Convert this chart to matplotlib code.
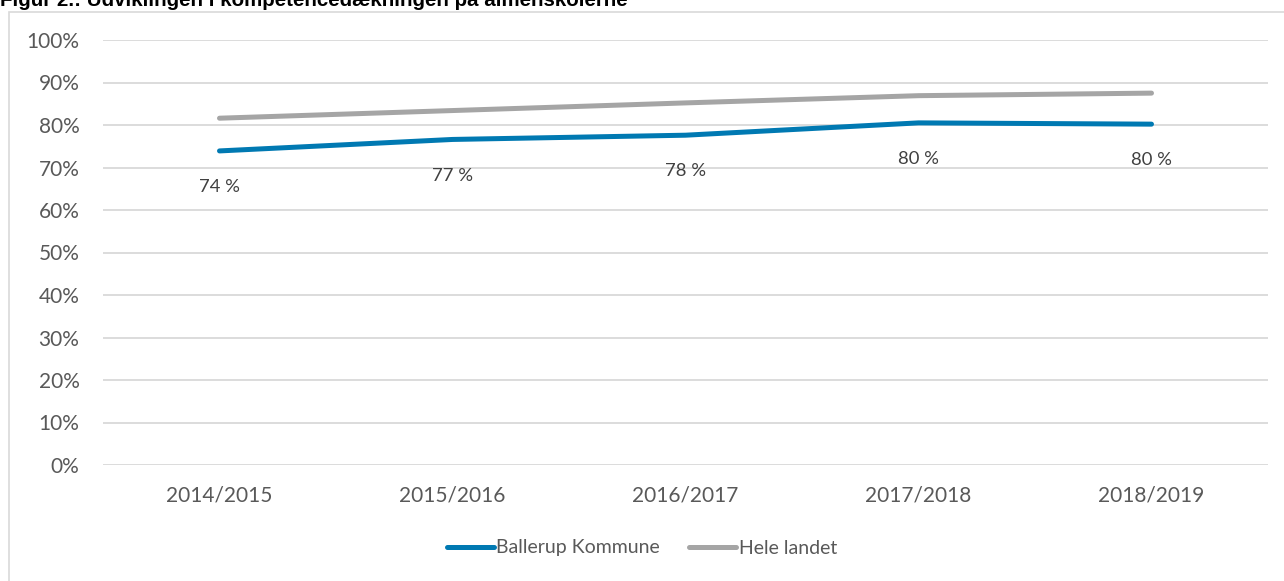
import matplotlib.pyplot as plt
from matplotlib.patches import Rectangle
from matplotlib.ticker import PercentFormatter

# data (percent)
years = ['2014/2015', '2015/2016', '2016/2017', '2017/2018', '2018/2019']
ballerup = [73.9, 76.6, 77.6, 80.5, 80.2]
hele_landet = [81.6, 83.4, 85.2, 86.9, 87.5]

blue = '#0079B2'
grey = '#A5A5A5'
text_col = '#595959'
font = 'Lato'

W, H = 1284, 581
fig = plt.figure(figsize=(W / 100, H / 100), dpi=100)

# outer chart frame
fig.patches.append(Rectangle((9 / W, -0.05), 1.0, 1 - 12 / H + 0.05,
                             transform=fig.transFigure, fill=False,
                             edgecolor='#D9D9D9', linewidth=1.2))

# title, clipped by the top edge as in the source
fig.text(0.0, 1 - 6.5 / H, 'Figur 2.: Udviklingen i kompetencedækningen på almenskolerne',
         fontsize=14.8, fontweight='bold', family='Liberation Sans',
         va='baseline', ha='left', color='black')

ax = fig.add_axes([103 / W, 1 - 465 / H, (1268 - 103) / W, (465 - 40) / H])
x = range(len(years))
ax.plot(x, ballerup, color=blue, linewidth=3.6, solid_capstyle='round',
        label='Ballerup Kommune')
ax.plot(x, hele_landet, color=grey, linewidth=3.6, solid_capstyle='round',
        label='Hele landet')

for i, v in enumerate(ballerup):
    ax.annotate(f'{v:.0f} %', (i, v), xytext=(0, -26), textcoords='offset points',
                ha='center', va='center', fontsize=13.3, family=font, color='#404040')

ax.set_xlim(-0.5, len(years) - 0.5)
ax.set_ylim(0, 100)
ax.set_yticks(range(0, 101, 10))
ax.yaxis.set_major_formatter(PercentFormatter(decimals=0))
ax.set_xticks(list(x))
ax.set_xticklabels(years)
ax.grid(axis='y', color='#D9D9D9', linewidth=1.3)
ax.set_axisbelow(True)
for s in ax.spines.values():
    s.set_visible(False)
ax.tick_params(length=0, labelsize=15, labelcolor=text_col, pad=17)
ax.tick_params(axis='x', pad=15)
for lab in ax.get_xticklabels() + ax.get_yticklabels():
    lab.set_family(font)

leg = fig.legend(loc='center', bbox_to_anchor=(0.5, 1 - 548 / H), ncol=2,
                 frameon=False, handlelength=2.4, handletextpad=0.15,
                 columnspacing=1.5, prop={'family': font, 'size': 14})
for t in leg.get_texts():
    t.set_color(text_col)

fig.savefig('out.png', dpi=100)
